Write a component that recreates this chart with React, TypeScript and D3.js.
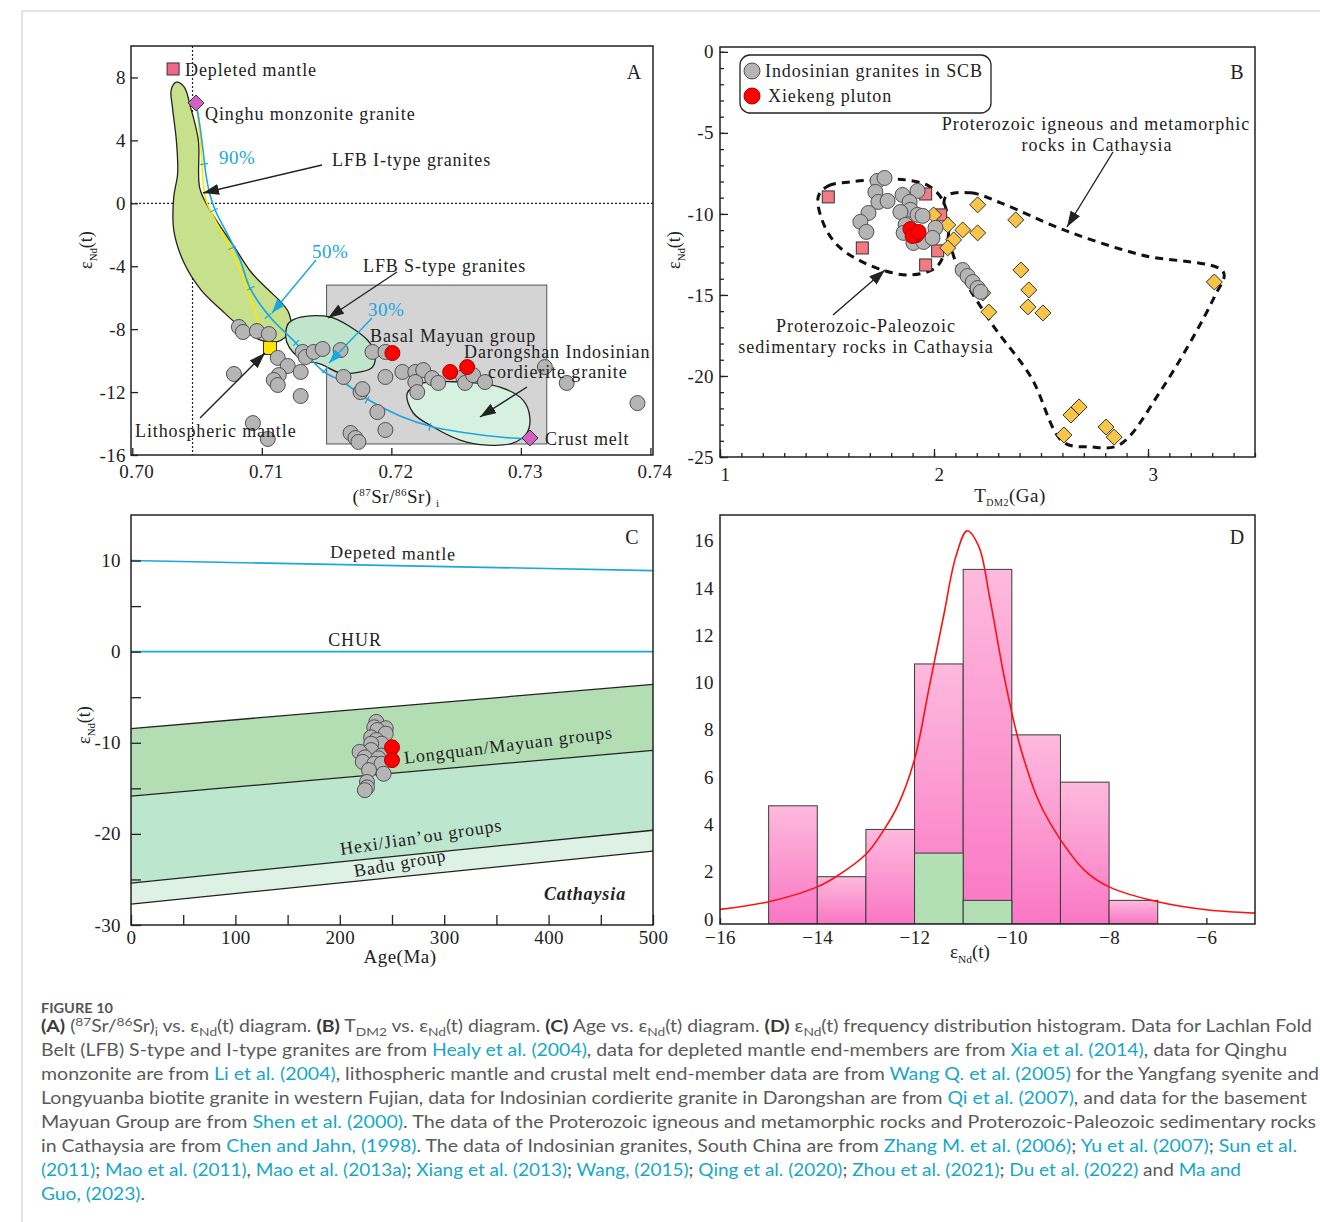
import React, { useEffect, useRef } from 'react'
import * as d3 from 'd3'

const SERIF = '"Liberation Serif", "Times New Roman", Times, serif'
const SANS = 'Lato, "Open Sans", "Noto Sans", sans-serif'
const INK = '#222'
const BLUE = '#1aa7df'
const LS = 0.9

// ---------- panel A : (87Sr/86Sr)i vs eNd(t) ----------
const aXTicks = [0.70, 0.71, 0.72, 0.73, 0.74]
const aYTicks = [-16, -12, -8, -4, 0, 4, 8]
const aGray = [
  [0.70823, -7.86], [0.70854, -8.18], [0.70962, -8.12], [0.71054, -8.31], [0.71123, -9.83],
  [0.71200, -10.34], [0.71131, -10.92], [0.71092, -11.23], [0.71123, -11.55], [0.70785, -10.85],
  [0.71315, -9.45], [0.71338, -9.77], [0.71400, -9.45], [0.71469, -9.26], [0.71608, -9.33],
  [0.71300, -10.72], [0.71300, -12.25], [0.70931, -13.97], [0.71046, -14.98], [0.71631, -11.04],
  [0.71762, -12.00], [0.71777, -11.81], [0.71892, -13.27], [0.71854, -9.45], [0.71954, -9.45],
  [0.71954, -11.04], [0.72085, -10.72], [0.72185, -10.72], [0.72246, -10.60], [0.72315, -11.11],
  [0.72362, -11.42], [0.72185, -11.36], [0.72200, -12.00], [0.72554, -11.04], [0.72569, -11.42],
  [0.72631, -10.92], [0.72723, -11.36], [0.73185, -10.41], [0.73354, -11.42], [0.73900, -12.70],
  [0.71685, -14.60], [0.71723, -14.92], [0.71746, -15.17], [0.71954, -14.41],
]
const aRed = [[0.72008, -9.52], [0.72454, -10.72], [0.72585, -10.41]]
const aDepletedMantle = [0.70315, 8.54]
const aQinghu = [0.70492, 6.38]
const aLithMantle = [0.71063, -9.2]
const aCrustMelt = [0.7307, -14.92]
const aMayuanX = [0.715, 0.732]
const aMayuanY = [-15.3, -5.2]
const aIType = [
  [0.7034, 7.7], [0.703, 7.2], [0.7031, 6.1], [0.7034, 4.0], [0.7035, 1.9], [0.7032, 0.4],
  [0.7032, -1.7], [0.704, -3.8], [0.7053, -5.5], [0.7069, -6.8], [0.7084, -7.9], [0.7099, -8.7],
  [0.7112, -8.8], [0.7122, -8.1], [0.7121, -7.0], [0.7115, -6.3], [0.7105, -5.5], [0.7092, -4.4],
  [0.7079, -2.8], [0.7059, -0.3], [0.7052, 1.0], [0.7051, 4.0], [0.7045, 6.1], [0.704, 7.4],
]
const aSType = [
  [0.71208, -7.61], [0.713, -7.23], [0.71531, -7.23], [0.71685, -7.86], [0.71815, -8.69],
  [0.71877, -9.52], [0.71854, -10.41], [0.71762, -10.72], [0.71608, -10.79], [0.71454, -10.22],
  [0.71323, -9.96], [0.71246, -9.52], [0.71192, -8.82], [0.71185, -8.18],
]
const aDarongshan = [
  [0.72123, -12.06], [0.72246, -11.42], [0.72531, -11.36], [0.72838, -11.68], [0.73015, -12.5],
  [0.73069, -13.59], [0.73046, -14.6], [0.72938, -15.24], [0.72738, -15.37], [0.72531, -15.05],
  [0.72323, -14.22], [0.72169, -13.33],
]
const aBlueMix = [
  [0.70492, 6.38], [0.70515, 5.3], [0.70546, 3.39], [0.70569, 1.8], [0.706, 0.53], [0.70646, -0.55],
  [0.70731, -1.89], [0.70832, -3.6], [0.70909, -5.39], [0.71063, -7.23], [0.71241, -8.69],
  [0.71472, -10.66], [0.71627, -11.36], [0.71812, -12.44], [0.72067, -13.52], [0.72322, -14.22],
  [0.72584, -14.6], [0.72839, -14.86], [0.73055, -14.98],
]
const aYellowMix = [
  [0.70492, 6.38], [0.70508, 5.3], [0.70531, 3.39], [0.70546, 1.48], [0.70569, 0.21], [0.70639, -1.06],
  [0.70716, -2.21], [0.70793, -3.48], [0.70886, -5.39], [0.70963, -7.23], [0.71001, -8.18], [0.71048, -9.01],
]
const aMixTicks = [
  [0.70555, 2.5], [0.70631, -0.43], [0.7077, -2.84], [0.70916, -5.39], [0.71048, -7.16],
  [0.71264, -8.88], [0.71488, -10.6], [0.71812, -12.51], [0.72298, -14.22],
]

// ---------- panel B : TDM2 vs eNd(t) ----------
const bXMajor = [1, 2, 3]
const bYMajor = [-25, -20, -15, -10, -5, 0]
const bGray = [
  [1.736, -7.96], [1.769, -7.78], [1.726, -8.64], [1.74, -9.26], [1.783, -9.2], [1.694, -9.94],
  [1.656, -10.49], [1.684, -11.11], [1.853, -8.83], [1.923, -8.58], [1.886, -9.26], [1.89, -9.75],
  [1.843, -9.88], [1.923, -10.06], [1.947, -10.12], [2.007, -10.86], [1.904, -11.79], [1.951, -11.73],
  [1.993, -11.48], [1.867, -10.68], [1.858, -11.17], [2.134, -13.46], [2.157, -13.83], [2.181, -14.2],
  [2.204, -14.57], [2.218, -14.81],
]
const bRed = [[1.89, -10.93], [1.918, -11.3], [1.9, -11.36], [1.928, -11.11]]
const bSquares = [
  [1.506, -8.95], [1.665, -12.1], [1.961, -8.77], [2.031, -10.06], [2.017, -12.28], [1.961, -13.15],
]
const bDiamonds = [
  [1.998, -10.06], [2.064, -10.68], [2.134, -10.99], [2.092, -11.6], [2.064, -12.1], [2.204, -9.44],
  [2.204, -11.17], [2.382, -10.37], [2.406, -13.46], [2.443, -14.69], [2.439, -15.74], [2.509, -16.11],
  [2.256, -16.05], [2.228, -14.88], [3.31, -14.2], [2.678, -21.91], [2.64, -22.41], [2.607, -23.64],
  [2.804, -23.15], [2.842, -23.77],
]
const bSedimentLoop = [
  [1.459, -8.95], [1.506, -8.27], [1.609, -8.02], [1.736, -7.9], [1.867, -7.9], [1.975, -8.27],
  [2.04, -9.14], [2.068, -10.68], [2.054, -12.22], [2.007, -13.33], [1.89, -13.77], [1.773, -13.52],
  [1.656, -12.9], [1.562, -12.1], [1.492, -10.86],
]
const bIgneousLoop = [
  [2.054, -8.95], [2.172, -8.7], [2.312, -9.32], [2.607, -10.99], [2.968, -12.53], [3.352, -13.58],
  [3.31, -15.12], [3.062, -20.86], [2.865, -24.26], [2.734, -24.38], [2.603, -24.07], [2.453, -20.06],
  [2.265, -16.67], [2.101, -12.96], [2.068, -10.99],
]

// ---------- panel C : Age vs eNd(t) ----------
const cXTicks = [0, 100, 200, 300, 400, 500]
const cYTicks = [-30, -20, -10, 0, 10]
const cAge = [0, 500]
const cDepleted = [10.0, 8.9]
const cChur = [0, 0]
const cLongquanTop = [-8.44, -3.6]
const cLongquanBase = [-15.85, -10.83]
const cHexiBase = [-25.4, -19.6]
const cBaduBase = [-27.7, -21.9]
const cGray = [
  [235, -7.7], [233, -8.3], [244, -8.4], [236, -8.6], [244, -9.0], [230, -9.4], [235, -9.7],
  [240, -10.1], [230, -10.1], [230, -10.8], [219, -11.0], [240, -11.4], [224, -11.6], [237, -11.7],
  [222, -12.1], [233, -12.3], [240, -12.3], [228, -13.0], [242, -13.4], [226, -14.3], [226, -14.9],
  [224, -15.2],
]
const cRed = [[250, -10.5], [250, -11.9]]

// ---------- panel D : eNd(t) histogram ----------
const dXTicks = [-16, -14, -12, -10, -8, -6]
const dYTicks = [0, 2, 4, 6, 8, 10, 12, 14, 16]
const dBinStart = [-15, -14, -13, -12, -11, -10, -9, -8]
const dCounts = [5, 2, 4, 11, 15, 8, 6, 1]
const dGreenCounts = [0, 0, 0, 3, 1, 0, 0, 0]
const dCurve = [
  [-16, 0.62], [-15, 0.94], [-14, 1.57], [-13.6, 2.02], [-13, 2.95], [-12.65, 3.92], [-12.34, 5.03],
  [-12, 6.97], [-11.7, 10.0], [-11.4, 13.06], [-11.15, 15.55], [-10.92, 16.63], [-10.68, 15.97],
  [-10.45, 13.75], [-10.14, 10.29], [-9.83, 7.52], [-9.44, 5.17], [-9, 3.57], [-8.5, 2.26],
  [-8, 1.57], [-7, 0.94], [-6, 0.6], [-5, 0.46],
]

// ---------- caption ----------
const captionTitle = 'FIGURE 10'
const captionLines: [string, string][][] = [
  [['(A)', 'b'], [' (', 'n'], ['87', 'sup'], ['Sr/', 'n'], ['86', 'sup'], ['Sr)', 'n'], ['i', 'sub'],
    [' vs. ε', 'n'], ['Nd', 'sub'], ['(t) diagram. ', 'n'], ['(B)', 'b'], [' T', 'n'], ['DM2', 'sub'],
    [' vs. ε', 'n'], ['Nd', 'sub'], ['(t) diagram. ', 'n'], ['(C)', 'b'], [' Age vs. ε', 'n'], ['Nd', 'sub'],
    ['(t) diagram. ', 'n'], ['(D)', 'b'], [' ε', 'n'], ['Nd', 'sub'],
    ['(t) frequency distribution histogram. Data for Lachlan Fold', 'n']],
  [['Belt (LFB) S-type and I-type granites are from ', 'n'], ['Healy et al. (2004)', 'l'],
    [', data for depleted mantle end-members are from ', 'n'], ['Xia et al. (2014)', 'l'], [', data for Qinghu', 'n']],
  [['monzonite are from ', 'n'], ['Li et al. (2004)', 'l'],
    [', lithospheric mantle and crustal melt end-member data are from ', 'n'], ['Wang Q. et al. (2005)', 'l'],
    [' for the Yangfang syenite and', 'n']],
  [['Longyuanba biotite granite in western Fujian, data for Indosinian cordierite granite in Darongshan are from ', 'n'],
    ['Qi et al. (2007)', 'l'], [', and data for the basement', 'n']],
  [['Mayuan Group are from ', 'n'], ['Shen et al. (2000)', 'l'],
    ['. The data of the Proterozoic igneous and metamorphic rocks and Proterozoic-Paleozoic sedimentary rocks', 'n']],
  [['in Cathaysia are from ', 'n'], ['Chen and Jahn, (1998)', 'l'],
    ['. The data of Indosinian granites, South China are from ', 'n'], ['Zhang M. et al. (2006)', 'l'], ['; ', 'n'],
    ['Yu et al. (2007)', 'l'], ['; ', 'n'], ['Sun et al.', 'l']],
  [['(2011)', 'l'], ['; ', 'n'], ['Mao et al. (2011)', 'l'], [', ', 'n'], ['Mao et al. (2013a)', 'l'], ['; ', 'n'],
    ['Xiang et al. (2013)', 'l'], ['; ', 'n'], ['Wang, (2015)', 'l'], ['; ', 'n'], ['Qing et al. (2020)', 'l'], ['; ', 'n'],
    ['Zhou et al. (2021)', 'l'], ['; ', 'n'], ['Du et al. (2022)', 'l'], [' and ', 'n'], ['Ma and', 'l']],
  [['Guo, (2023)', 'l'], ['.', 'n']],
]
const captionWidths = [1271, 1246, 1278, 1266, 1275, 1256, 1200, 104]

const PA = { left: 131, right: 653, top: 46, bottom: 455 }
const PB = { left: 720, right: 1255, top: 47, bottom: 457 }
const PC = { left: 131, right: 653, top: 515, bottom: 925 }
const PD = { left: 720, right: 1255, top: 515, bottom: 924 }

function txt(g, s, x, y, o: any = {}) {
  const t = g.append('text')
    .attr('x', x).attr('y', y)
    .attr('font-family', o.family || SERIF)
    .attr('font-size', o.size || 18)
    .attr('fill', o.fill || INK)
    .attr('text-anchor', o.anchor || 'start')
    .attr('letter-spacing', o.ls ?? LS)
    .text(s)
  if (o.weight) t.attr('font-weight', o.weight)
  if (o.italic) t.attr('font-style', 'italic')
  if (o.rotate) t.attr('transform', `rotate(${o.rotate},${x},${y})`)
  return t
}

function epsLabel(g, x, y, rotate = 0, size = 18) {
  const t = g.append('text').attr('x', x).attr('y', y)
    .attr('text-anchor', 'middle').attr('font-family', SERIF)
    .attr('font-size', size).attr('fill', INK)
  if (rotate) t.attr('transform', `rotate(${rotate},${x},${y})`)
  t.append('tspan').text('ε')
  t.append('tspan').attr('font-size', size * 0.6).attr('dy', size * 0.25).text('Nd')
  t.append('tspan').attr('dy', -size * 0.25).text('(t)')
}

function arrow(g, x1, y1, x2, y2, marker, color = INK, w = 1.4) {
  g.append('line').attr('x1', x1).attr('y1', y1).attr('x2', x2).attr('y2', y2)
    .attr('stroke', color).attr('stroke-width', w).attr('marker-end', `url(#${marker})`)
}

function frame(g, P) {
  g.append('rect').attr('x', P.left).attr('y', P.top)
    .attr('width', P.right - P.left).attr('height', P.bottom - P.top)
    .attr('fill', 'none').attr('stroke', INK).attr('stroke-width', 1.5)
}

function styleAxis(sel, size = 19) {
  sel.select('.domain').remove()
  sel.selectAll('line').attr('stroke', INK).attr('stroke-width', 1.3)
  sel.selectAll('text').attr('font-family', SERIF).attr('font-size', size).attr('fill', INK)
    .attr('letter-spacing', 0.4)
  return sel
}

function clip(defs, id, P) {
  defs.append('clipPath').attr('id', id).append('rect')
    .attr('x', P.left).attr('y', P.top).attr('width', P.right - P.left).attr('height', P.bottom - P.top)
}

function circles(g, data, x, y, fill, stroke, r = 7.5) {
  g.selectAll(null).data(data).enter().append('circle')
    .attr('cx', d => x(d[0])).attr('cy', d => y(d[1])).attr('r', r)
    .attr('fill', fill).attr('stroke', stroke).attr('stroke-width', 1)
}

function squares(g, data, x, y, fill, s = 12) {
  g.selectAll(null).data(data).enter().append('rect')
    .attr('x', d => x(d[0]) - s / 2).attr('y', d => y(d[1]) - s / 2)
    .attr('width', s).attr('height', s)
    .attr('fill', fill).attr('stroke', '#333').attr('stroke-width', 1)
}

function diamonds(g, data, x, y, fill, s = 8) {
  g.selectAll(null).data(data).enter().append('path')
    .attr('d', d => {
      const cx = x(d[0]), cy = y(d[1])
      return `M${cx},${cy - s}L${cx + s},${cy}L${cx},${cy + s}L${cx - s},${cy}Z`
    })
    .attr('fill', fill).attr('stroke', '#333').attr('stroke-width', 1)
}

function drawA(svg, defs) {
  const P = PA
  const x = d3.scaleLinear().domain([0.6999, 0.7402]).range([P.left, P.right])
  const y = d3.scaleLinear().domain([-16, 10]).range([P.bottom, P.top])
  clip(defs, 'clipA', P)
  const g = svg.append('g')
  const inner = g.append('g').attr('clip-path', 'url(#clipA)')

  inner.append('rect')
    .attr('x', x(aMayuanX[0])).attr('y', y(aMayuanY[1]))
    .attr('width', x(aMayuanX[1]) - x(aMayuanX[0])).attr('height', y(aMayuanY[0]) - y(aMayuanY[1]))
    .attr('fill', '#d4d4d4').attr('stroke', '#555').attr('stroke-width', 1)

  // reference lines
  inner.append('line').attr('x1', x(0.70465)).attr('x2', x(0.70465)).attr('y1', P.top).attr('y2', P.bottom)
    .attr('stroke', INK).attr('stroke-width', 1.2).attr('stroke-dasharray', '2,2')
  inner.append('line').attr('x1', P.left).attr('x2', P.right).attr('y1', y(0)).attr('y2', y(0))
    .attr('stroke', INK).attr('stroke-width', 1.2).attr('stroke-dasharray', '2,2')

  const closed = d3.line().x(d => x(d[0])).y(d => y(d[1])).curve(d3.curveCatmullRomClosed.alpha(0.5))
  inner.append('path').attr('d', closed(aIType)).attr('fill', '#c7e08b').attr('stroke', INK).attr('stroke-width', 1.3)
  inner.append('path').attr('d', closed(aSType)).attr('fill', '#bfe6cb').attr('stroke', INK).attr('stroke-width', 1.3)
  inner.append('path').attr('d', closed(aDarongshan)).attr('fill', '#d6f1e0').attr('stroke', INK).attr('stroke-width', 1.3)

  const open = d3.line().x(d => x(d[0])).y(d => y(d[1])).curve(d3.curveCatmullRom.alpha(0.5))
  inner.append('path').attr('d', open(aYellowMix)).attr('fill', 'none').attr('stroke', '#ffe800').attr('stroke-width', 1.6)
  inner.append('path').attr('d', open(aBlueMix)).attr('fill', 'none').attr('stroke', BLUE).attr('stroke-width', 1.6)

  // small ticks across the mixing curve
  const pix = aBlueMix.map(d => [x(d[0]), y(d[1])])
  aMixTicks.forEach(t => {
    const px = x(t[0]), py = y(t[1])
    let bi = 0, bd = Infinity
    pix.forEach((p, i) => { const dd = (p[0] - px) ** 2 + (p[1] - py) ** 2; if (dd < bd) { bd = dd; bi = i } })
    const a = pix[Math.max(0, bi - 1)], b = pix[Math.min(pix.length - 1, bi + 1)]
    const len = Math.hypot(b[0] - a[0], b[1] - a[1])
    const nx = -(b[1] - a[1]) / len, ny = (b[0] - a[0]) / len
    inner.append('line').attr('x1', px - nx * 4).attr('y1', py - ny * 4).attr('x2', px + nx * 4).attr('y2', py + ny * 4)
      .attr('stroke', BLUE).attr('stroke-width', 1.2)
  })

  // end members
  squares(inner, [aDepletedMantle], x, y, '#f2668b', 12)
  diamonds(inner, [aQinghu, aCrustMelt], x, y, '#d45fc6', 8)
  squares(inner, [aLithMantle], x, y, '#ffe600', 13)

  circles(inner, aGray, x, y, '#b5b5b5', '#505050')
  circles(inner, aRed, x, y, '#ff0000', '#b00000')

  // axes
  styleAxis(g.append('g').attr('transform', `translate(0,${P.bottom})`)
    .call(d3.axisBottom(x).tickValues(aXTicks).tickFormat(d3.format('.2f')).tickSize(-7).tickPadding(10)))
    .selectAll('text').attr('dx', 4)
  styleAxis(g.append('g').attr('transform', `translate(${P.left},0)`)
    .call(d3.axisLeft(y).tickValues(aYTicks).tickFormat(d => String(d)).tickSize(-7).tickPadding(5)))
  frame(g, P)

  // annotations
  txt(g, 'Depleted mantle', 185, 76)
  txt(g, 'Qinghu monzonite granite', 205, 120)
  txt(g, '90%', 219, 164, { fill: BLUE, size: 19, ls: 0.5 })
  txt(g, 'LFB I-type granites', 332, 166)
  txt(g, '50%', 312, 258, { fill: BLUE, size: 19, ls: 0.5 })
  txt(g, 'LFB S-type granites', 363, 272)
  txt(g, '30%', 368, 316, { fill: BLUE, size: 19, ls: 0.5 })
  txt(g, 'Basal Mayuan group', 370, 342)
  txt(g, 'Darongshan Indosinian', 464, 358)
  txt(g, 'cordierite granite', 488, 378)
  txt(g, 'Lithospheric mantle', 135, 437)
  txt(g, 'Crust melt', 545, 445)
  txt(g, 'A', 634, 79, { size: 20, anchor: 'middle', ls: 0 })
  arrow(g, 322, 165, 203, 193, 'arrK')
  arrow(g, 397, 272, 328, 318, 'arrK')
  arrow(g, 200, 418, 265, 353, 'arrK')
  arrow(g, 527, 387, 480, 417, 'arrK')
  arrow(g, 316, 260, 272, 313, 'arrB', BLUE, 1.4)
  arrow(g, 372, 318, 329, 363, 'arrB', BLUE, 1.4)

  epsLabel(g, 92, 250, -90)
  const xl = g.append('text').attr('x', 396).attr('y', 503).attr('text-anchor', 'middle')
    .attr('font-family', SERIF).attr('font-size', 19).attr('fill', INK).attr('letter-spacing', 0.5)
  xl.append('tspan').text('(')
  xl.append('tspan').attr('font-size', 11).attr('dy', -7).text('87')
  xl.append('tspan').attr('dy', 7).text('Sr/')
  xl.append('tspan').attr('font-size', 11).attr('dy', -7).text('86')
  xl.append('tspan').attr('dy', 7).text('Sr)\u2009')
  xl.append('tspan').attr('font-size', 11).attr('dy', 4).text('i')
}

function drawB(svg, defs) {
  const P = PB
  const x = d3.scaleLinear().domain([1, 3.5]).range([P.left, P.right])
  const y = d3.scaleLinear().domain([-25, 0.3]).range([P.bottom, P.top])
  clip(defs, 'clipB', P)
  const g = svg.append('g')
  const inner = g.append('g').attr('clip-path', 'url(#clipB)')

  const closed = d3.line().x(d => x(d[0])).y(d => y(d[1])).curve(d3.curveCatmullRomClosed.alpha(0.5))
  ;[bSedimentLoop, bIgneousLoop].forEach(loop => {
    inner.append('path').attr('d', closed(loop)).attr('fill', 'none')
      .attr('stroke', '#111').attr('stroke-width', 3).attr('stroke-dasharray', '8,6')
  })
  squares(inner, bSquares, x, y, '#f47a82', 12)
  diamonds(inner, bDiamonds, x, y, '#f9c548', 8)
  circles(inner, bGray, x, y, '#b5b5b5', '#505050')
  circles(inner, bRed, x, y, '#ff0000', '#b00000')

  const xMinor = d3.range(1, 3.5001, 0.1)
  const yMinor = d3.range(-25, 0.001, 1)
  styleAxis(g.append('g').attr('transform', `translate(0,${P.bottom})`)
    .call(d3.axisBottom(x).tickValues(xMinor).tickFormat(() => '').tickSize(-4)))
  styleAxis(g.append('g').attr('transform', `translate(${P.left},0)`)
    .call(d3.axisLeft(y).tickValues(yMinor).tickFormat(() => '').tickSize(-4)))
  styleAxis(g.append('g').attr('transform', `translate(0,${P.bottom})`)
    .call(d3.axisBottom(x).tickValues(bXMajor).tickFormat(d => String(d)).tickSize(-8).tickPadding(11)))
    .selectAll('text').attr('dx', 5)
  styleAxis(g.append('g').attr('transform', `translate(${P.left},0)`)
    .call(d3.axisLeft(y).tickValues(bYMajor).tickFormat(d => String(d)).tickSize(-8).tickPadding(6)))
  frame(g, P)

  // legend
  g.append('rect').attr('x', 740).attr('y', 55).attr('width', 251).attr('height', 58).attr('rx', 10)
    .attr('fill', '#fff').attr('stroke', INK).attr('stroke-width', 1.3)
  g.append('circle').attr('cx', 752).attr('cy', 71).attr('r', 8).attr('fill', '#b5b5b5').attr('stroke', '#505050')
  g.append('circle').attr('cx', 752).attr('cy', 96).attr('r', 8).attr('fill', '#ff0000').attr('stroke', '#b00000')
  txt(g, 'Indosinian granites in SCB', 765, 77)
  txt(g, 'Xiekeng pluton', 768, 102)

  txt(g, 'B', 1237, 79, { size: 20, anchor: 'middle', ls: 0 })
  txt(g, 'Proterozoic igneous and metamorphic', 1096, 130, { anchor: 'middle', ls: 1.0 })
  txt(g, 'rocks in Cathaysia', 1097, 151, { anchor: 'middle', ls: 1.0 })
  txt(g, 'Proterozoic-Paleozoic', 866, 332, { anchor: 'middle', ls: 1.0 })
  txt(g, 'sedimentary rocks in Cathaysia', 866, 353, { anchor: 'middle', ls: 1.0 })
  arrow(g, 1113, 152, 1067, 227, 'arrK')
  arrow(g, 833, 315, 885, 270, 'arrK')

  epsLabel(g, 680, 250, -90)
  const xl = g.append('text').attr('x', 1010).attr('y', 502).attr('text-anchor', 'middle')
    .attr('font-family', SERIF).attr('font-size', 19).attr('fill', INK).attr('letter-spacing', 0.5)
  xl.append('tspan').text('T')
  xl.append('tspan').attr('font-size', 10).attr('dy', 4).text('DM2')
  xl.append('tspan').attr('dy', -4).text('(Ga)')
}

function drawC(svg, defs) {
  const P = PC
  const x = d3.scaleLinear().domain([0, 500]).range([P.left, P.right])
  const y = d3.scaleLinear().domain([-30, 15]).range([P.bottom, P.top])
  clip(defs, 'clipC', P)
  const g = svg.append('g')
  const inner = g.append('g').attr('clip-path', 'url(#clipC)')

  const band = (top, base, fill) => {
    const area = d3.area().x((d, i) => x(cAge[i])).y0((d, i) => y(base[i])).y1((d, i) => y(top[i]))
    inner.append('path').attr('d', area(cAge)).attr('fill', fill)
  }
  band(cLongquanTop, cLongquanBase, '#b3deb4')
  band(cLongquanBase, cHexiBase, '#bde6cf')
  band(cHexiBase, cBaduBase, '#ddf1e5')
  const ln = (vals, color, w) => {
    const line = d3.line().x((d, i) => x(cAge[i])).y(d => y(d))
    inner.append('path').attr('d', line(vals)).attr('fill', 'none').attr('stroke', color).attr('stroke-width', w)
  }
  ;[cLongquanTop, cLongquanBase, cHexiBase, cBaduBase].forEach(v => ln(v, INK, 1.3))
  ln(cDepleted, BLUE, 1.6)
  ln(cChur, BLUE, 1.6)

  circles(inner, cGray, x, y, '#b5b5b5', '#505050', 7.5)
  circles(inner, cRed, x, y, '#ff0000', '#b00000', 7.5)

  styleAxis(g.append('g').attr('transform', `translate(0,${P.bottom})`)
    .call(d3.axisBottom(x).tickValues(d3.range(50, 500, 100)).tickFormat(() => '').tickSize(-10)))
  styleAxis(g.append('g').attr('transform', `translate(0,${P.bottom})`)
    .call(d3.axisBottom(x).tickValues(cXTicks).tickFormat(d => String(d)).tickSize(-10).tickPadding(6)))
  styleAxis(g.append('g').attr('transform', `translate(${P.left},0)`)
    .call(d3.axisLeft(y).tickValues([-25, -15, -5, 5]).tickFormat(() => '').tickSize(-10)))
  styleAxis(g.append('g').attr('transform', `translate(${P.left},0)`)
    .call(d3.axisLeft(y).tickValues(cYTicks).tickFormat(d => String(d)).tickSize(-10).tickPadding(10)))
  frame(g, P)

  txt(g, 'C', 632, 544, { size: 20, anchor: 'middle', ls: 0 })
  txt(g, 'Depeted mantle', 393, 559, { anchor: 'middle', rotate: 1.2 })
  txt(g, 'CHUR', 355, 646, { anchor: 'middle' })
  txt(g, 'Longquan/Mayuan groups', 509, 751, { anchor: 'middle', rotate: -7 })
  txt(g, "Hexi/Jian\u2019ou groups", 422, 843, { anchor: 'middle', rotate: -8.5 })
  txt(g, 'Badu group', 401, 869, { anchor: 'middle', rotate: -10 })
  txt(g, 'Cathaysia', 585, 900, { anchor: 'middle', weight: 700, italic: true })

  epsLabel(g, 90, 725, -90)
  txt(g, 'Age(Ma)', 400, 963, { anchor: 'middle', size: 19, ls: 0.5 })
}

function drawD(svg, defs) {
  const P = PD
  const x = d3.scaleLinear().domain([-16, -5]).range([P.left, P.right])
  const y = d3.scaleLinear().domain([0, 17.3]).range([P.bottom, P.top])
  clip(defs, 'clipD', P)
  const grad = defs.append('linearGradient').attr('id', 'pinkGrad').attr('x1', 0).attr('y1', 0).attr('x2', 0).attr('y2', 1)
  grad.append('stop').attr('offset', '0%').attr('stop-color', '#fdbadd')
  grad.append('stop').attr('offset', '100%').attr('stop-color', '#fa76c4')

  const g = svg.append('g')
  styleAxis(g.append('g').attr('transform', `translate(0,${P.bottom})`)
    .call(d3.axisBottom(x).tickValues(dXTicks).tickSize(-6).tickPadding(7)))
  styleAxis(g.append('g').attr('transform', `translate(${P.left},-5)`)
    .call(d3.axisLeft(y).tickValues(dYTicks).tickSize(0).tickPadding(6)))

  const inner = g.append('g').attr('clip-path', 'url(#clipD)')
  inner.selectAll(null).data(dBinStart).enter().append('rect')
    .attr('x', d => x(d)).attr('width', d => x(d + 1) - x(d))
    .attr('y', (d, i) => y(dCounts[i])).attr('height', (d, i) => y(0) - y(dCounts[i]))
    .attr('fill', 'url(#pinkGrad)').attr('stroke', '#3a3a3a').attr('stroke-width', 1)
  inner.selectAll(null).data(dBinStart.filter((d, i) => dGreenCounts[i] > 0)).enter().append('rect')
    .attr('x', d => x(d)).attr('width', d => x(d + 1) - x(d))
    .attr('y', d => y(dGreenCounts[dBinStart.indexOf(d)]))
    .attr('height', d => y(0) - y(dGreenCounts[dBinStart.indexOf(d)]))
    .attr('fill', '#b3dfb4').attr('stroke', '#3a3a3a').attr('stroke-width', 1)
  const curve = d3.line().x(d => x(d[0])).y(d => y(d[1])).curve(d3.curveCatmullRom.alpha(0.5))
  inner.append('path').attr('d', curve(dCurve)).attr('fill', 'none').attr('stroke', '#ff1010').attr('stroke-width', 1.6)
  frame(g, P)

  txt(g, 'D', 1237, 544, { size: 20, anchor: 'middle', ls: 0 })
  epsLabel(g, 970, 958, 0, 19)
}

function drawCaption(svg) {
  svg.append('line').attr('x1', 22).attr('x2', 1320).attr('y1', 11).attr('y2', 11).attr('stroke', '#c8c8c8')
  svg.append('line').attr('x1', 22).attr('x2', 22).attr('y1', 11).attr('y2', 1222).attr('stroke', '#c8c8c8')
  svg.append('text').attr('x', 41).attr('y', 1013).attr('font-family', SANS).attr('font-size', 14)
    .attr('font-weight', 700).attr('fill', '#555').attr('textLength', 72).attr('lengthAdjust', 'spacingAndGlyphs')
    .text(captionTitle)
  captionLines.forEach((line, i) => {
    const t = svg.append('text').attr('x', 41).attr('y', 1032 + i * 24)
      .attr('font-family', SANS).attr('font-size', 17).attr('fill', '#5a5a5a')
      .attr('textLength', captionWidths[i]).attr('lengthAdjust', 'spacingAndGlyphs')
    let off = 0
    line.forEach(([s, k]) => {
      const sp = t.append('tspan').text(s)
      const target = k === 'sup' ? -6 : k === 'sub' ? 4 : 0
      if (target !== off) { sp.attr('dy', target - off); off = target }
      if (k === 'sup' || k === 'sub') sp.attr('font-size', 12)
      if (k === 'b') sp.attr('font-weight', 700).attr('fill', '#3a3a3a')
      if (k === 'l') sp.attr('fill', '#17a7c6')
    })
  })
}

export default function App() {
  const svgRef = useRef<SVGSVGElement>(null)

  useEffect(() => {
    const svg = d3.select(svgRef.current)
    svg.selectAll('*').remove()
    const defs = svg.append('defs')
    const marker = (id, color, w, h) => {
      defs.append('marker').attr('id', id).attr('viewBox', `0 0 ${w} ${h}`)
        .attr('refX', w).attr('refY', h / 2).attr('markerWidth', w).attr('markerHeight', h)
        .attr('markerUnits', 'userSpaceOnUse').attr('orient', 'auto')
        .append('path').attr('d', `M0,0L${w},${h / 2}L0,${h}Z`).attr('fill', color)
    }
    marker('arrK', INK, 16, 11)
    marker('arrB', BLUE, 14, 10)

    drawA(svg, defs)
    drawB(svg, defs)
    drawC(svg, defs)
    drawD(svg, defs)
    drawCaption(svg)
  }, [])

  return (
    <div style={{ position: 'absolute', left: 0, top: 0 }}>
      <svg ref={svgRef} width={1320} height={1222} style={{ display: 'block', background: '#fff' }} />
    </div>
  )
}
